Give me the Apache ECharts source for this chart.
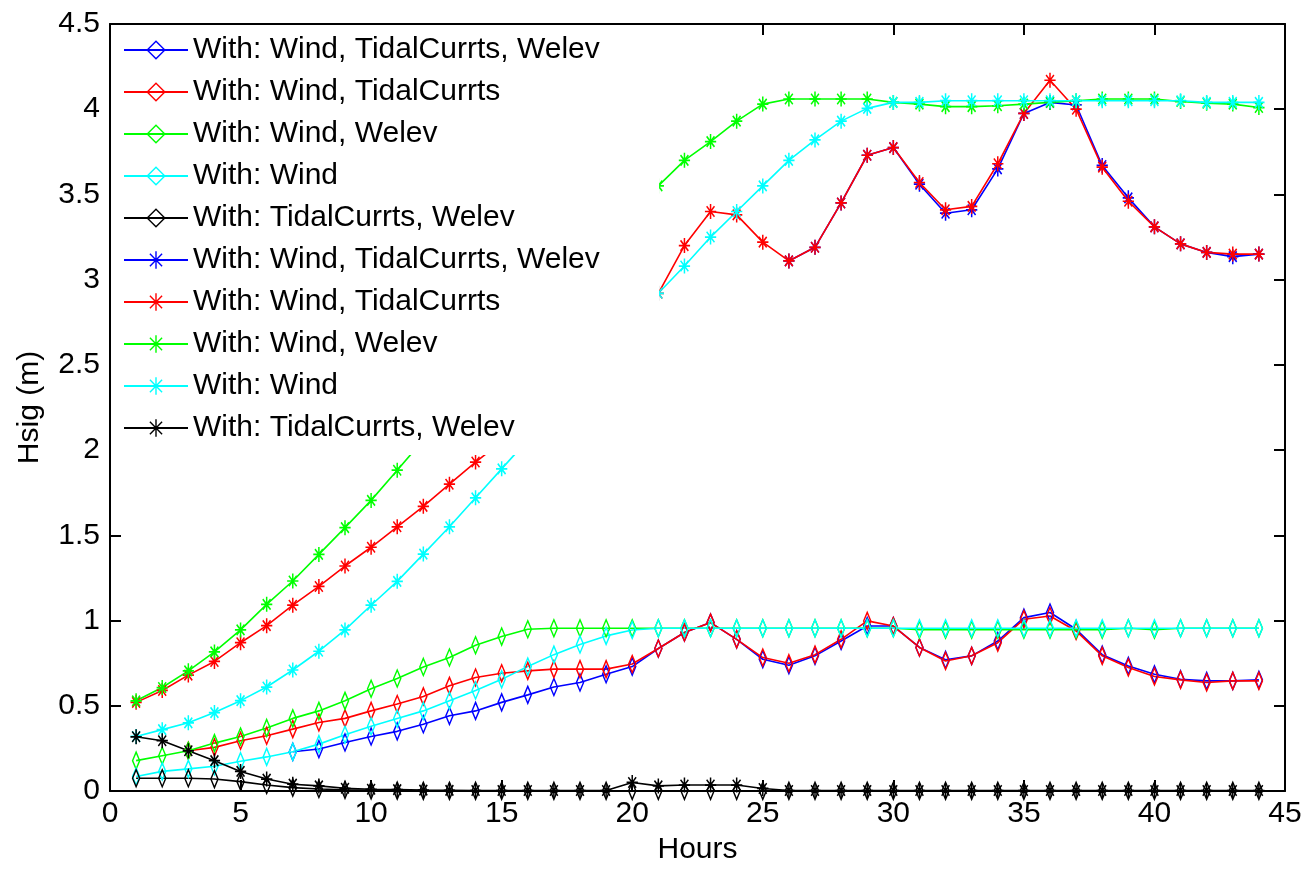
<!DOCTYPE html>
<html>
<head>
<meta charset="utf-8">
<title>Hsig</title>
<script src="https://cdn.jsdelivr.net/npm/echarts@6.0.0/dist/echarts.min.js"></script>
<style>
  html, body { margin: 0; padding: 0; background: #fff; }
  #main { width: 1306px; height: 870px; }
</style>
</head>
<body>
<div id="main"></div>
<script>
// hours on the x axis
const hours = [1, 2, 3, 4, 5, 6, 7, 8, 9, 10, 11, 12, 13, 14, 15, 16, 17, 18, 19, 20, 21, 22,
  23, 24, 25, 26, 27, 28, 29, 30, 31, 32, 33, 34, 35, 36, 37, 38, 39, 40, 41, 42, 43, 44];

const xTicks = [0, 5, 10, 15, 20, 25, 30, 35, 40, 45];
const yTicks = [0, 0.5, 1, 1.5, 2, 2.5, 3, 3.5, 4, 4.5];

// diamond runs (lower family); null = nothing visible there
const dWindTideWelev = [null, null, null, null, null, null, 0.23,
  0.246, 0.285, 0.32, 0.35, 0.392, 0.441, 0.47, 0.52, 0.564, 0.61, 0.637, 0.685, 0.73,
  0.836, 0.93, 0.988, 0.89,
  0.773, 0.738, 0.793, 0.88, 0.968, 0.968, 0.842, 0.77, 0.793, 0.88, 1.017, 1.047, 0.949, 0.80,
  0.734, 0.685, 0.656, 0.646, 0.646, 0.652];
const dWindTide = [null, null, 0.236,
  0.256, 0.295, 0.324, 0.363, 0.402, 0.426, 0.47, 0.51, 0.555, 0.617, 0.666, 0.691, 0.705, 0.715,
  0.715, 0.715, 0.745,
  0.836, 0.93, 0.988, 0.89, 0.783, 0.75, 0.80, 0.89, 0.998, 0.968, 0.842, 0.763, 0.793, 0.87,
  1.008, 1.027, 0.939, 0.793, 0.725, 0.672, 0.652, 0.637, 0.646, 0.646];
const dWindWelev = [0.178, 0.207, 0.236, 0.281, 0.32, 0.37, 0.426, 0.47, 0.529, 0.60, 0.66, 0.728,
  0.783, 0.855, 0.906, 0.949,
  0.955, 0.955, 0.955, 0.955, 0.955, 0.955, 0.955, 0.955, 0.955, 0.955, 0.955, 0.955, 0.955, 0.955,
  0.946, 0.946, 0.946, 0.946, 0.946, 0.946, 0.946, 0.946, 0.955, 0.946,
  0.955, 0.955, 0.955, 0.955];
const dWind = [0.085, 0.115, 0.13, 0.145, 0.175, 0.20, 0.23, 0.275, 0.33, 0.38, 0.425, 0.47, 0.53,
  0.59, 0.655, 0.73, 0.80, 0.86, 0.91, 0.945,
  0.955, 0.955, 0.955, 0.955, 0.955, 0.955, 0.955, 0.955, 0.955, 0.955, 0.955, 0.955, 0.955, 0.955,
  0.955, 0.955, 0.955, 0.955, 0.955, 0.955, 0.955, 0.955, 0.955, 0.955];
const dTideWelev = [0.075, 0.075, 0.075, 0.07, 0.055, 0.035, 0.02, 0.012, 0.007, 0.004, 0.002,
  0.001, 0.001, 0.001, 0.001, 0.001, 0.001, 0.001, 0.001, 0.001, 0.001, 0.001, 0.001, 0.001,
  0.001, 0.001, 0.001, 0.001, 0.001, 0.001, 0.001, 0.001, 0.001, 0.001, 0.001, 0.001, 0.001,
  0.001, 0.001, 0.001, 0.001, 0.001, 0.001, 0.001];

// star runs (upper family)
const sWind = [0.32, 0.36, 0.40, 0.46, 0.53, 0.61, 0.71, 0.82, 0.945, 1.09, 1.23, 1.39, 1.55, 1.72,
  1.89, 2.06, 2.23, 2.40, 2.57, 2.74,
  2.92, 3.08, 3.25, 3.40, 3.55, 3.70, 3.82, 3.93, 4.005, 4.04, 4.04, 4.05, 4.05, 4.05, 4.05, 4.05,
  4.05, 4.05, 4.05, 4.05, 4.05, 4.04, 4.04, 4.04];
const sWindTide = [0.52, 0.59, 0.68, 0.76, 0.87, 0.97, 1.09, 1.20, 1.32, 1.43, 1.55, 1.67, 1.80, 1.93,
  2.05, 2.17, 2.29, 2.41, 2.51, 2.61,
  2.92, 3.20, 3.40, 3.38, 3.22, 3.11, 3.19, 3.45, 3.73, 3.775, 3.57, 3.41, 3.43, 3.68, 3.975, 4.17,
  4.00, 3.66, 3.46, 3.31, 3.21, 3.16, 3.15, 3.15];
const sWindTideWelev = [null, null, null, null, null, null, null, null, null, null, null, null, null,
  null, null, null, null, null, null, null, null, null, null, null, null, 3.11,
  3.19, 3.45, 3.73, 3.775, 3.56, 3.39, 3.41, 3.65, 3.975, 4.04, 4.025, 3.67, 3.48, 3.31, 3.21, 3.16,
  3.135, 3.15];
const sWindWelev = [0.529, 0.607, 0.705, 0.816, 0.945, 1.095, 1.232, 1.388, 1.545, 1.705, 1.882,
  2.06, 2.23, 2.40, 2.57, 2.74, 2.92, 3.08, 3.25, 3.40,
  3.55, 3.70, 3.81, 3.93, 4.03, 4.06, 4.06, 4.06, 4.06, 4.04, 4.03, 4.015, 4.015, 4.02, 4.03, 4.04,
  4.05, 4.06, 4.06, 4.06, 4.045, 4.035, 4.03, 4.01];
const sTideWelev = [0.318, 0.295, 0.236, 0.178, 0.115, 0.07, 0.04, 0.03, 0.016, 0.01, 0.008, 0.005,
  0.004, 0.003, 0.003, 0.003, 0.003, 0.003, 0.003, 0.05, 0.03, 0.035, 0.035, 0.035, 0.015,
  0.003, 0.003, 0.003, 0.003, 0.003, 0.003, 0.003, 0.003, 0.003, 0.003, 0.003, 0.003, 0.003,
  0.003, 0.003, 0.003, 0.003, 0.003, 0.003];

const FONT = '"Liberation Sans", Arial, Helvetica, sans-serif';
const DIAMOND = 'path://M0,-17L11,0L0,17L-11,0Z';
const STAR = 'path://M0,-15L0,15M-13,0L13,0M-9,-10.5L9,10.5M-9,10.5L9,-10.5';

// plotting order as in the original figure, later ones on top
const runs = [
  ['With: Wind, TidalCurrts, Welev', '#0000ff', dWindTideWelev, false],
  ['With: Wind, TidalCurrts', '#ff0000', dWindTide, false],
  ['With: Wind, Welev', '#00ff00', dWindWelev, false],
  ['With: Wind', '#00ffff', dWind, false],
  ['With: TidalCurrts, Welev', '#000000', dTideWelev, false],
  // trailing space keeps legend entries apart
  ['With: Wind, TidalCurrts, Welev ', '#0000ff', sWindTideWelev, true],
  ['With: Wind, TidalCurrts ', '#ff0000', sWindTide, true],
  ['With: Wind, Welev ', '#00ff00', sWindWelev, true],
  ['With: Wind ', '#00ffff', sWind, true],
  ['With: TidalCurrts, Welev ', '#000000', sTideWelev, true]
];

const series = runs.map(([name, color, vals, star]) => ({
  name: name,
  type: 'line',
  data: hours.map((h, i) => [h, vals[i]]),
  symbol: star ? STAR : DIAMOND,
  symbolSize: star ? [13, 15] : [11, 17],
  symbolKeepAspect: true,
  showAllSymbol: true,
  connectNulls: false,
  lineStyle: { color: color, width: 1.6 },
  itemStyle: { color: 'rgba(255,255,255,0)', borderColor: color, borderWidth: 1.6 },
  emphasis: { disabled: true }
}));

const axisCommon = {
  type: 'value',
  axisLine: { show: true, onZero: false, lineStyle: { color: '#000', width: 2 } },
  axisTick: { show: true, inside: true, length: 11, lineStyle: { color: '#000', width: 2 } },
  splitLine: { show: false }
};

const chart = echarts.init(document.getElementById('main'));
chart.setOption({
  animation: false,
  backgroundColor: '#fff',
  grid: { left: 110, top: 24, width: 1175, height: 768 },
  legend: {
    orient: 'vertical',
    left: 111,
    top: 25,
    padding: [10, 51, 12, 12],
    itemGap: 12,
    itemWidth: 64,
    itemHeight: 22,
    backgroundColor: '#fff',
    borderWidth: 0,
    selectedMode: false,
    itemStyle: { borderWidth: 1.4 },
    textStyle: { fontFamily: FONT, fontSize: 30, lineHeight: 30, color: '#000' },
    data: runs.map(r => r[0])
  },
  xAxis: [
    Object.assign({}, axisCommon, {
      min: xTicks[0], max: xTicks[xTicks.length - 1], interval: xTicks[1] - xTicks[0],
      position: 'bottom',
      axisLabel: { fontFamily: FONT, fontSize: 30, color: '#000', margin: 8 },
      name: 'Hours', nameLocation: 'middle', nameGap: 44,
      nameTextStyle: { fontFamily: FONT, fontSize: 30, color: '#000' }
    }),
    Object.assign({}, axisCommon, {
      min: xTicks[0], max: xTicks[xTicks.length - 1], interval: xTicks[1] - xTicks[0],
      position: 'top', axisLabel: { show: false }
    })
  ],
  yAxis: [
    Object.assign({}, axisCommon, {
      min: yTicks[0], max: yTicks[yTicks.length - 1], interval: yTicks[1] - yTicks[0],
      position: 'left',
      axisLabel: { fontFamily: FONT, fontSize: 30, color: '#000', margin: 10 },
      name: 'Hsig (m)', nameLocation: 'middle', nameGap: 65,
      nameTextStyle: { fontFamily: FONT, fontSize: 30, color: '#000' }
    }),
    Object.assign({}, axisCommon, {
      min: yTicks[0], max: yTicks[yTicks.length - 1], interval: yTicks[1] - yTicks[0],
      position: 'right', axisLabel: { show: false }
    })
  ],
  series: series
});
</script>
</body>
</html>
